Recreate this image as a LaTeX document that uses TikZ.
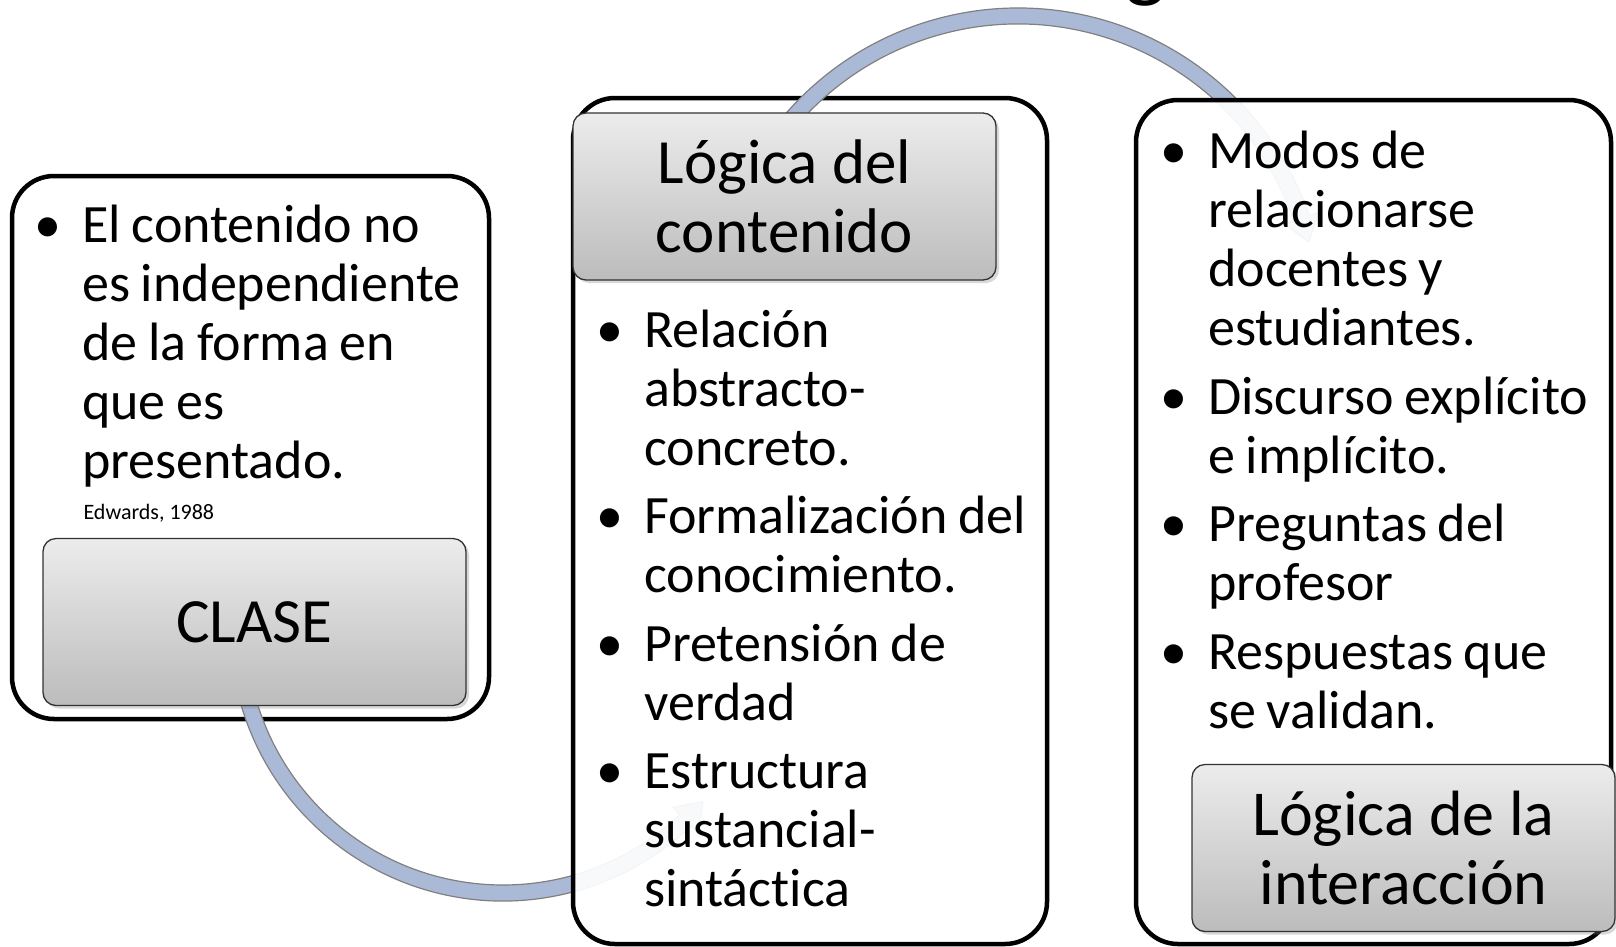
\documentclass[tikz,border=0pt]{standalone}
\usepackage{fontspec}
\setmainfont{Carlito}[Ligatures=NoCommon]
\usetikzlibrary{calc,shadows}

\definecolor{bandazul}{RGB}{170,186,214}
\definecolor{bandaborde}{RGB}{128,128,128}
\definecolor{cabarriba}{RGB}{236,236,236}
\definecolor{cababajo}{RGB}{188,188,188}

% one bullet paragraph, lines broken by hand
\newcommand{\punto}[1]{\spaceskip=0.2em\relax\hangindent=34pt\hangafter=1\noindent\strut\makebox[34pt][l]{\makebox[0pt]{\textbullet}}#1\par\vspace{9.5pt}}

% curved band with head: center, radius, start angle, head base angle, tip angle
\newcommand{\flecha}[5]{%
  \pgfmathsetmacro\rext{#2+8}\pgfmathsetmacro\rint{#2-8}%
  \pgfmathsetmacro\rpext{#2+18}\pgfmathsetmacro\rpint{#2-18}%
  \filldraw[banda] ($(#1)+(#3:\rext)$) arc[start angle=#3, end angle=#4, radius=\rext]
    -- ($(#1)+(#4:\rpext)$) -- ($(#1)+(#5:#2)$) -- ($(#1)+(#4:\rpint)$)
    -- ($(#1)+(#4:\rint)$) arc[start angle=#4, end angle=#3, radius=\rint] -- cycle;}

\tikzset{
  caja/.style={draw, line width=4.5pt, rounded corners=42pt, fill=white, fill opacity=0.92, text opacity=1, inner sep=0pt},
  cabecera/.style={draw=black!80, line width=1.3pt, rounded corners=13pt, top color=cabarriba, bottom color=cababajo,
    minimum width=423, minimum height=167, align=center, font=\fontsize{63}{69}\selectfont,
    drop shadow={shadow xshift=3pt, shadow yshift=-3pt, opacity=0.3}},
  lista/.style={anchor=north west, inner sep=0pt, text width=440pt, font=\fontsize{54}{59}\selectfont},
  banda/.style={fill=bandazul, draw=bandaborde, line width=1.2pt},
}

\begin{document}
\begin{tikzpicture}[x=1pt, y=-1pt]
\useasboundingbox (0,0) rectangle (1616,946);

% title, mostly off the page
\node[anchor=base, font=\fontsize{86}{96}\selectfont] (titulo) at (1146,-9) {g};

% left box
\node[caja, minimum width=477, minimum height=543] (clasecaja) at (250.5,447.5) {};
\node[lista] (clasetexto) at (48,201) {%
  \punto{El contenido no\newline es independiente\newline de la forma en\newline que es\newline presentado.}};
\node[anchor=base west, font=\fontsize{22}{26}\selectfont] (cita) at (80,519) {Edwards, 1988};

% lower arc
\coordinate (c1) at (503,628);
\flecha{c1}{265}{166}{46.5}{41}
\node[cabecera] (clase) at (254.5,622) {CLASE};

% middle box
\node[caja, minimum width=474, minimum height=846] (contcaja) at (810,521) {};
\node[lista] (conttexto) at (610,305.5) {%
  \punto{Relación\newline abstracto-\newline concreto.}
  \punto{Formalización del\newline conocimiento.}
  \punto{Pretensión de\newline verdad}
  \punto{Estructura\newline sustancial-\newline sintáctica}};

% upper arc
\coordinate (c2) at (1018,316);
\flecha{c2}{300}{-146}{-19}{-14.3}
\node[cabecera] (contenido) at (784.5,196.5) {Lógica del\\contenido};

% right box
\node[caja, minimum width=475, minimum height=844] (intercaja) at (1373.5,522) {};
\node[lista] (intertexto) at (1174,127) {%
  \punto{Modos de\newline relacionarse\newline docentes y\newline estudiantes.}
  \punto{Discurso explícito\newline e implícito.}
  \punto{Preguntas del\newline profesor}
  \punto{Respuestas que\newline se validan.}};
\node[cabecera, font=\fontsize{64}{69}\selectfont] (interaccion) at (1403.5,848) {Lógica de la\\interacción};
\end{tikzpicture}
\end{document}
